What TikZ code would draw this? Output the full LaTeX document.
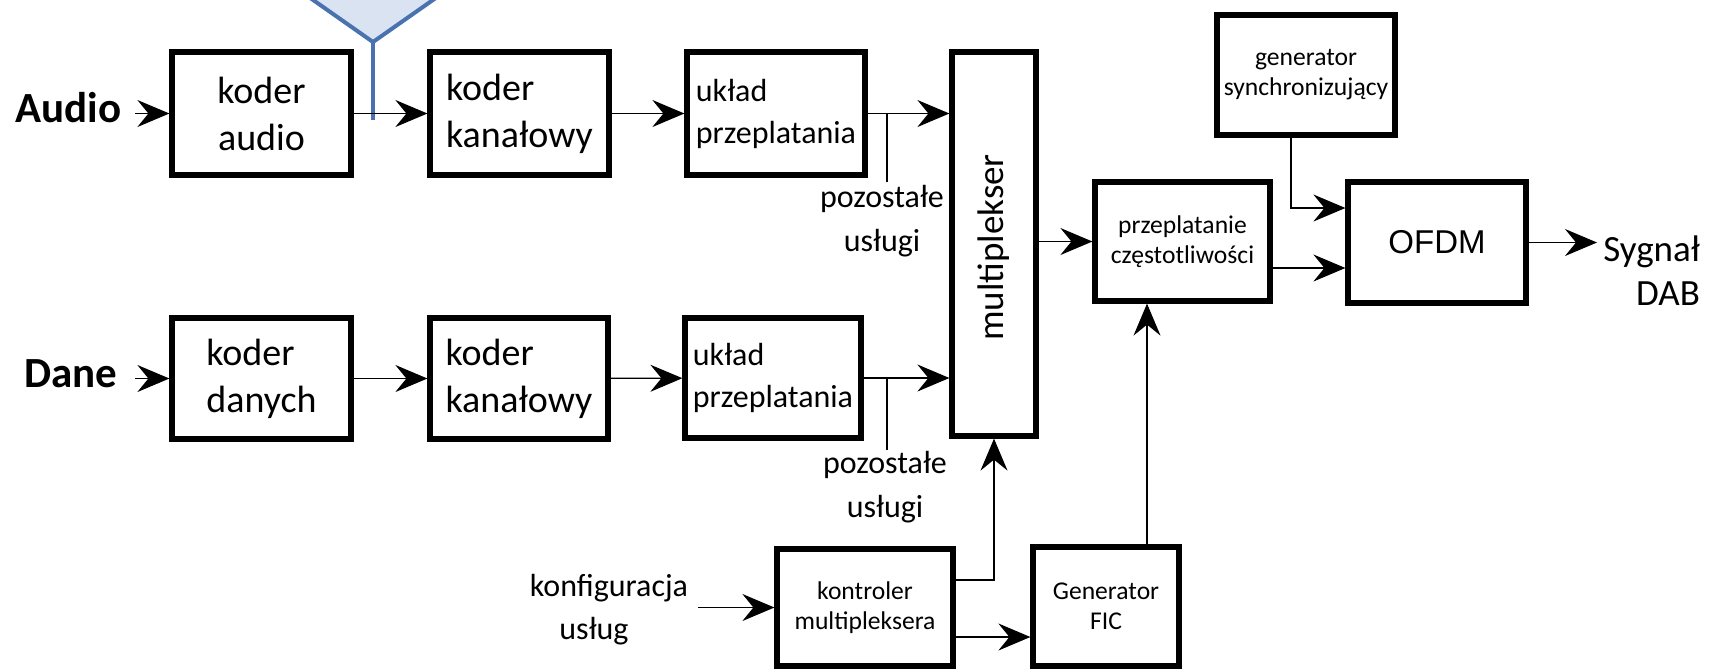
\documentclass[tikz,border=0pt]{standalone}
\usepackage{fontspec}
\setmainfont{Carlito}
\newfontfamily\arialfont{Liberation Sans}
\usetikzlibrary{arrows.meta,positioning}

\definecolor{trojkatFill}{RGB}{218,227,241}
\definecolor{trojkatLine}{RGB}{74,114,176}

\tikzset{
  rozm/.style 2 args={minimum width=#1*0.5pt,minimum height=#2*0.5pt},
  blok/.style={draw,line width=2.6pt,inner sep=0pt,align=center,
    font=\fontsize{19}{23.5}\selectfont},
  blokprz/.style={blok,align=left,font=\fontsize{16}{21}\selectfont},
  blokmaly/.style={blok,font=\fontsize{12.8}{15}\selectfont},
  etykieta/.style={inner sep=0pt,align=center,font=\fontsize{16}{22}\selectfont},
  wejscie/.style={inner ysep=0pt,font=\fontsize{21.5}{24}\selectfont\bfseries},
  strz/.style={line width=0.6pt,-{Stealth[length=16pt,width=13.5pt,inset=5.5pt]}},
  linia/.style={line width=0.6pt},
}

\begin{document}
\begin{tikzpicture}[x=0.5pt,y=-0.5pt]
\useasboundingbox (0,0) rectangle (1713,671);

% niebieski trojkat u gory
\filldraw[fill=trojkatFill,draw=trojkatLine,line width=2pt,line join=miter]
  (296,-12) -- (373,42) -- (450,-12) -- cycle;
\draw[trojkatLine,line width=2pt] (373,42) -- (373,120);

% tor audio
\node[wejscie,inner xsep=6.5pt,anchor=base east] (audio) at (135,122) {Audio};
\node[blok,rozm={179}{123}] (kodAudio) at (261.5,113.5) {koder\\audio};
\node[blok,rozm={179}{123},align=left] (kodKan1) at (519.5,113.5) {koder\\kanałowy};
\node[blokprz,rozm={178}{123}] (uklad1) at (776,113.5) {układ\\przeplatania};

% tor danych
\node[wejscie,inner xsep=8.5pt,anchor=base east] (dane) at (135,387) {Dane};
\node[blok,rozm={179}{121},align=left] (kodDan) at (261.5,378.5) {koder\\danych};
\node[blok,rozm={178}{121},align=left] (kodKan2) at (519,378.5) {koder\\kanałowy};
\node[blokprz,rozm={176}{120}] (uklad2) at (773,378) {układ\\przeplatania};

% multiplekser i reszta
\node[blok,rozm={84}{384}] (mux) at (994,244) {};
\node[etykieta,rotate=90,font=\fontsize{18.5}{20}\selectfont] (muxTxt) at (994,247.5) {multiplekser};
\node[blokmaly,rozm={175}{119}] (przepl) at (1182.5,241.5) {przeplatanie\\częstotliwości};
\node[blokmaly,rozm={178}{120}] (genSync) at (1306,75) {generator\\synchronizujący};
\node[blok,rozm={178}{121},font=\arialfont\fontsize{16.5}{20}\selectfont] (ofdm) at (1437,242.5) {OFDM};
\node[etykieta,align=right,inner xsep=3pt,anchor=west,font=\fontsize{18.5}{22}\selectfont] (sygnal) at (1597,271) {Sygnał\\DAB};

\node[blokmaly,rozm={176}{117}] (kontroler) at (865,607.5) {kontroler\\multipleksera};
\node[blokmaly,rozm={146}{119}] (fic) at (1106,606.5) {Generator\\FIC};
\node[etykieta,font=\fontsize{16}{21.5}\selectfont,inner xsep=5pt,anchor=north] (konfig) at (609,574) {konfiguracja\\usług\hspace*{15pt}};

\node[etykieta,anchor=north] (poz1) at (882,185) {pozostałe\\usługi};
\node[etykieta,anchor=north] (poz2) at (885,451) {pozostałe\\usługi};
\coordinate (rozg1) at (887,182);
\coordinate (rozg2) at (887,450);

% polaczenia
\draw[strz] (audio.east |- kodAudio.west) -- (kodAudio.west);
\draw[strz] (kodAudio) -- (kodKan1);
\draw[strz] (kodKan1) -- (uklad1);
\draw[strz] (uklad1.east) -- (uklad1.east -| mux.west);
\draw[linia] (rozg1 |- uklad1.east) -- (rozg1);

\draw[strz] (dane.east |- kodDan.west) -- (kodDan.west);
\draw[strz] (kodDan) -- (kodKan2);
\draw[strz] (kodKan2) -- (uklad2);
\draw[strz] (uklad2.east) -- (uklad2.east -| mux.west);
\draw[linia] (rozg2 |- uklad2.east) -- (rozg2);

\draw[strz] (konfig.east |- kontroler.west) -- (kontroler.west);
\draw[strz] ([yshift=13.75pt]kontroler.east) -| (mux.south);
\draw[strz] ([yshift=-14.75pt]kontroler.east) -- ([yshift=-14.75pt]kontroler.east -| fic.west);
\draw[strz] ([xshift=20.5pt]fic.north) -- ([xshift=20.5pt]fic.north |- przepl.south);

\draw[strz] (mux.east |- przepl.west) -- (przepl.west);
\draw[strz] ([xshift=-7.5pt]genSync.south) |- ([yshift=17.25pt]ofdm.west);
\draw[strz] ([yshift=-13.25pt]przepl.east) -- ([yshift=-13.25pt]przepl.east -| ofdm.west);
\draw[strz] (ofdm.east) -- (ofdm.east -| sygnal.west);
\end{tikzpicture}
\end{document}
